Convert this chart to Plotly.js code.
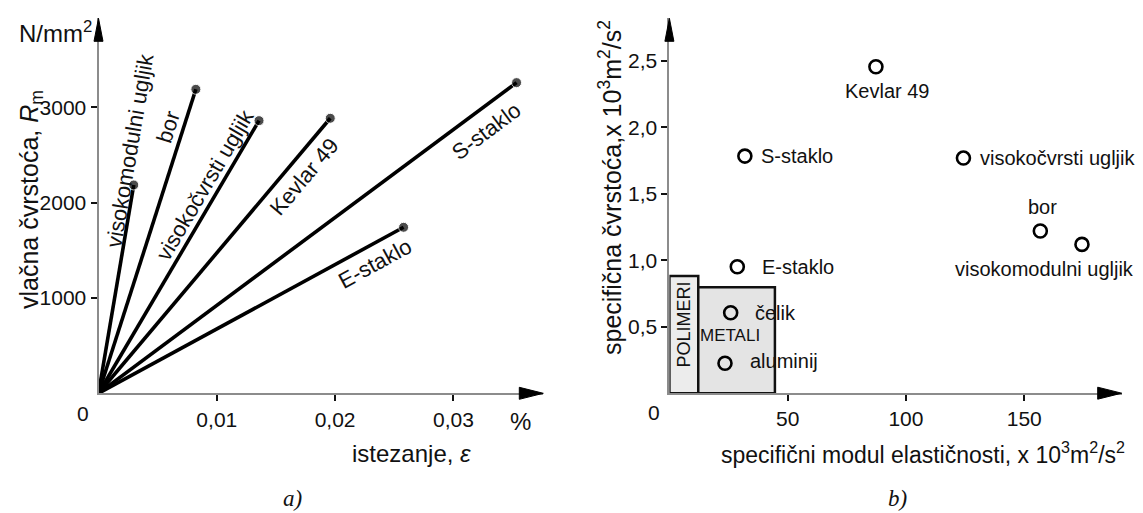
<!DOCTYPE html>
<html>
<head>
<meta charset="utf-8">
<script src="https://cdn.plot.ly/plotly-3.0.1.min.js"></script>
<style>html,body{margin:0;padding:0;background:#fff;}#chart{width:1143px;height:513px;}</style>
</head>
<body>
<div id="chart"></div>
<script>
// ---------- DATA ----------
// (a) tensile strength vs strain
const fibreNames = ['visokomodulni ugljik', 'bor', 'visokočvrsti ugljik', 'Kevlar 49', 'S-staklo', 'E-staklo'];
const strainAtBreak = [0.00298, 0.00823, 0.01357, 0.01959, 0.03534, 0.02579];   // %
const tensileStrength = [2186, 3190, 2861, 2886, 3260, 1742];                  // N/mm2
const leftXTicks = [0.01, 0.02, 0.03];
const leftXTickText = ['0,01', '0,02', '0,03'];
const leftYTicks = [1000, 2000, 3000];
const leftYTickText = ['1000', '2000', '3000'];

// (b) specific strength vs specific modulus
const materialNames = ['Kevlar 49', 'S-staklo', 'visokočvrsti ugljik', 'bor', 'visokomodulni ugljik', 'E-staklo', 'čelik', 'aluminij'];
const specificModulus = [87.3, 31.9, 124.3, 156.8, 174.4, 28.7, 25.9, 23.5];
const specificStrength = [2.455, 1.783, 1.768, 1.22, 1.119, 0.951, 0.605, 0.225];
const regionNames = ['POLIMERI', 'METALI'];
const regionModulusFrom = [0, 12.2];
const regionModulusTo = [12.2, 44.6];
const regionStrengthTo = [0.881, 0.796];
const rightXTicks = [50, 100, 150];
const rightXTickText = ['50', '100', '150'];
const rightYTicks = [0.5, 1.0, 1.5, 2.0, 2.5];
const rightYTickText = ['0,5', '1,0', '1,5', '2,0', '2,5'];

// ---------- LAYOUT CONSTANTS ----------
const W = 1143, H = 513;
const FONT = 'Liberation Sans, Arial, sans-serif';
const SERIF = 'Liberation Serif, Times New Roman, serif';
const px = v => v / W;
const py = v => 1 - v / H;

const L = {x0: 98.5, x1: 543.3, yb: 393.3, yt: 18.3, xmax: 0.0376, ymax: 3935};
const R = {x0: 669.4, x1: 1121.7, yb: 393.2, yt: 18.3, xmax: 191.2, ymax: 2.819};

// axis value -> pixel helpers (same linear mapping as the axes)
const lX = v => L.x0 + v * (L.x1 - L.x0) / L.xmax;
const lY = v => L.yb - v * (L.yb - L.yt) / L.ymax;
const rX = v => R.x0 + v * (R.x1 - R.x0) / R.xmax;
const rY = v => R.yb - v * (R.yb - R.yt) / R.ymax;

// label positions for (a), in data units (placement)
const leftLabelPos = {
  'visokomodulni ugljik': [0.00262, 2553],
  'bor': [0.00585, 2794],
  'visokočvrsti ugljik': [0.00905, 2186],
  'Kevlar 49': [0.01742, 2270],
  'S-staklo': [0.03276, 2742],
  'E-staklo': [0.02337, 1367]
};
// label offsets for (b), in pixels
const rightLabelStyle = {
  'Kevlar 49': {dx: 12, dy: 24, xa: 'center'},
  'S-staklo': {dx: 14, dy: 0, xa: 'left'},
  'visokočvrsti ugljik': {dx: 15, dy: 0, xa: 'left'},
  'bor': {dx: 2, dy: -24, xa: 'center'},
  'visokomodulni ugljik': {dx: -37, dy: 25, xa: 'center'},
  'E-staklo': {dx: 23, dy: 0, xa: 'left'},
  'čelik': {dx: 22, dy: 0, xa: 'left'},
  'aluminij': {dx: 23, dy: -2, xa: 'left'}
};

// ---------- TRACES ----------
const traces = [];
fibreNames.forEach((n, i) => {
  traces.push({
    type: 'scatter', mode: 'lines+markers', xaxis: 'x', yaxis: 'y',
    x: [0, strainAtBreak[i]], y: [0, tensileStrength[i]],
    line: {color: '#000', width: 3.6},
    marker: {color: '#000', size: [0, 10]},
    hoverinfo: 'skip', showlegend: false
  });
});
traces.push({
  type: 'scatter', mode: 'markers', xaxis: 'x2', yaxis: 'y2',
  x: specificModulus, y: specificStrength,
  marker: {symbol: 'circle-open', size: 13, color: '#000', line: {width: 2.6, color: '#000'}},
  hoverinfo: 'skip', showlegend: false
});

// ---------- SHAPES ----------
const shapes = [];
regionNames.forEach((n, i) => {
  shapes.push({
    type: 'rect', xref: 'x2', yref: 'y2', layer: 'below',
    x0: regionModulusFrom[i], x1: regionModulusTo[i], y0: 0, y1: regionStrengthTo[i],
    line: {color: '#111', width: 2.5}, fillcolor: i === 0 ? '#ececec' : '#e4e4e4'
  });
});
const P = (x, y) => px(x).toFixed(5) + ',' + py(y).toFixed(5);
function arrowRight(tx, ty) {
  return {type: 'path', xref: 'paper', yref: 'paper',
    path: 'M' + P(tx, ty) + ' L' + P(tx - 24, ty - 6) + ' L' + P(tx - 24, ty + 6) + ' Z',
    fillcolor: '#000', line: {color: '#000', width: 1}};
}
function arrowUp(tx, ty) {
  return {type: 'path', xref: 'paper', yref: 'paper',
    path: 'M' + P(tx, ty) + ' L' + P(tx - 4.5, ty + 23) + ' L' + P(tx + 4.5, ty + 23) + ' Z',
    fillcolor: '#000', line: {color: '#000', width: 1}};
}
shapes.push(arrowRight(L.x1, L.yb), arrowUp(L.x0, L.yt), arrowRight(R.x1, R.yb), arrowUp(R.x0, R.yt));

// ---------- ANNOTATIONS ----------
const ann = [];
const txt = (x, y, t, size, extra) => Object.assign({xref: 'paper', yref: 'paper', x: px(x), y: py(y), text: t,
  showarrow: false, xanchor: 'center', yanchor: 'middle', font: {family: FONT, size: size, color: '#111'}}, extra || {});

fibreNames.forEach((n, i) => {
  const ang = Math.atan2(L.yb - lY(tensileStrength[i]), lX(strainAtBreak[i]) - L.x0) * 180 / Math.PI;
  const pos = leftLabelPos[n];
  ann.push(txt(lX(pos[0]), lY(pos[1]), n, 22, {textangle: -ang}));
});
materialNames.forEach((n, i) => {
  const s = rightLabelStyle[n];
  ann.push(txt(rX(specificModulus[i]) + s.dx, rY(specificStrength[i]) + s.dy, n, 20, {xanchor: s.xa}));
});
ann.push(txt(rX((regionModulusFrom[0] + regionModulusTo[0]) / 2), rY(regionStrengthTo[0] / 2) - 10,
  regionNames[0], 18, {textangle: -90}));
ann.push(txt(rX((regionModulusFrom[1] + regionModulusTo[1]) / 2) - 7, rY(regionStrengthTo[1] / 2) - 5,
  regionNames[1], 17));

ann.push(txt(31, 200, 'vlačna čvrstoća, <i>R</i><sub>m</sub>', 25, {textangle: -90}));
ann.push(txt(55, 32, 'N/mm<sup>2</sup>', 24));
ann.push(txt(83, 413, '0', 21));
ann.push(txt(520, 421, '%', 24));
ann.push(txt(411, 453, 'istezanje, <i>ε</i>', 24));
ann.push(txt(292, 498, '<i>a)</i>', 23, {font: {family: SERIF, size: 23, color: '#111'}}));
ann.push(txt(610, 188, 'specifična čvrstoća,x 10<sup>3</sup>m<sup>2</sup>/s<sup>2</sup>', 25, {textangle: -90}));
ann.push(txt(654, 412, '0', 21));
ann.push(txt(923, 453, 'specifični modul elastičnosti, x 10<sup>3</sup>m<sup>2</sup>/s<sup>2</sup>', 23));
ann.push(txt(897, 498, '<i>b)</i>', 23, {font: {family: SERIF, size: 23, color: '#111'}}));

// ---------- AXES ----------
function axis(dom, range, tv, tt, extra) {
  return Object.assign({domain: dom, range: range, showgrid: false, zeroline: false, showline: true,
    linecolor: '#8c8c8c', linewidth: 2, ticks: 'outside', ticklen: 6, tickwidth: 2, tickcolor: '#111',
    tickvals: tv, ticktext: tt, tickfont: {family: FONT, size: 21, color: '#111'}, fixedrange: true}, extra || {});
}
const layout = {
  width: W, height: H, margin: {l: 0, r: 0, t: 0, b: 0},
  paper_bgcolor: '#fff', plot_bgcolor: 'rgba(0,0,0,0)', showlegend: false,
  xaxis: axis([px(L.x0), px(L.x1)], [0, L.xmax], leftXTicks, leftXTickText, {anchor: 'y'}),
  yaxis: axis([py(L.yb), py(L.yt)], [0, L.ymax], leftYTicks, leftYTickText, {anchor: 'x'}),
  xaxis2: axis([px(R.x0), px(R.x1)], [0, R.xmax], rightXTicks, rightXTickText, {anchor: 'y2'}),
  yaxis2: axis([py(R.yb), py(R.yt)], [0, R.ymax], rightYTicks, rightYTickText, {anchor: 'x2'}),
  shapes: shapes, annotations: ann
};
Plotly.newPlot('chart', traces, layout, {displayModeBar: false});
</script>
</body>
</html>
